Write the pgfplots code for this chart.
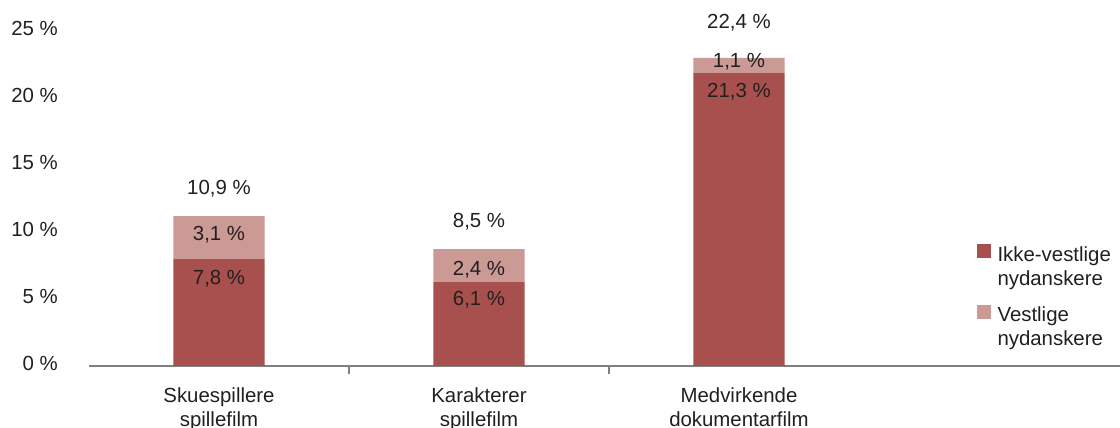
\documentclass[border=0pt]{standalone}
\usepackage{fontspec}
\setmainfont{Liberation Sans}
\usepackage{pgfplots}
\pgfplotsset{compat=1.18}
\definecolor{dark}{HTML}{A8504E}
\definecolor{light}{HTML}{CC9A94}
\definecolor{txt}{HTML}{231F20}
\definecolor{axisgray}{HTML}{808080}
\begin{document}
\fontsize{10.2}{12}\selectfont
\begin{tikzpicture}[lab/.style={anchor=base, yshift=-3.65pt, text=txt, inner sep=0pt}]
\path[use as bounding box] (0,0) rectangle (560pt,214pt);
\begin{axis}[
  at={(44.5pt,31pt)}, anchor=south west,
  scale only axis, width=520pt, height=171.875pt,
  xmin=-0.5, xmax=3.5, ymin=0, ymax=25,
  ybar stacked, bar width=45.5pt,
  clip=false,
  axis lines*=left,
  y axis line style={draw=none},
  x axis line style={draw=axisgray, line width=0.75pt},
  tick style={draw=axisgray, line width=0.75pt},
  major tick length=0pt,
  xtick={0,1,2},
  xticklabels={{Skuespillere\\spillefilm},{Karakterer\\spillefilm},{Medvirkende\\dokumentarfilm}},
  xticklabel style={align=center, text=txt, yshift=-7.5pt},
  extra x ticks={0.5,1.5},
  extra x tick labels={},
  extra x tick style={major tick length=4pt, tick align=outside},
  ytick={0,5,10,15,20,25},
  yticklabels={0 \%,5 \%,10 \%,15 \%,20 \%,25 \%},
  yticklabel style={text=txt, xshift=-12pt, yshift=1.5pt-0.9pt*\ticknum},
  legend style={at={(0.853,0.362)}, anchor=north west, draw=none, fill=none,
    inner sep=0pt, row sep=17pt, text=txt, cells={anchor=north west}},
  legend image code/.code={\fill[#1] (0pt,-8.25pt) rectangle (7pt,-1.25pt);},
]
\addplot[fill=dark, draw=none] coordinates {(0,7.8) (1,6.1) (2,21.3)};
\addlegendentry{\hspace{1.5pt}\parbox[t]{70pt}{Ikke-vestlige\\nydanskere}}
\addplot[fill=light, draw=none] coordinates {(0,3.1) (1,2.4) (2,1.1)};
\addlegendentry{\hspace{1.5pt}\parbox[t]{70pt}{Vestlige\\nydanskere}}

\coordinate (t0) at (axis cs:0,13.0);
\coordinate (l0) at (axis cs:0,9.67);
\coordinate (d0) at (axis cs:0,6.47);
\coordinate (t1) at (axis cs:1,10.6);
\coordinate (l1) at (axis cs:1,7.13);
\coordinate (d1) at (axis cs:1,4.95);
\coordinate (t2) at (axis cs:2,25.1);
\coordinate (l2) at (axis cs:2,22.25);
\coordinate (d2) at (axis cs:2,20.07);
\end{axis}
\node[lab] at (t0) {10,9 \%};
\node[lab] at (l0) {3,1 \%};
\node[lab] at (d0) {7,8 \%};
\node[lab] at (t1) {8,5 \%};
\node[lab] at (l1) {2,4 \%};
\node[lab] at (d1) {6,1 \%};
\node[lab] at (t2) {22,4 \%};
\node[lab] at (l2) {1,1 \%};
\node[lab] at (d2) {21,3 \%};
\end{tikzpicture}
\end{document}
